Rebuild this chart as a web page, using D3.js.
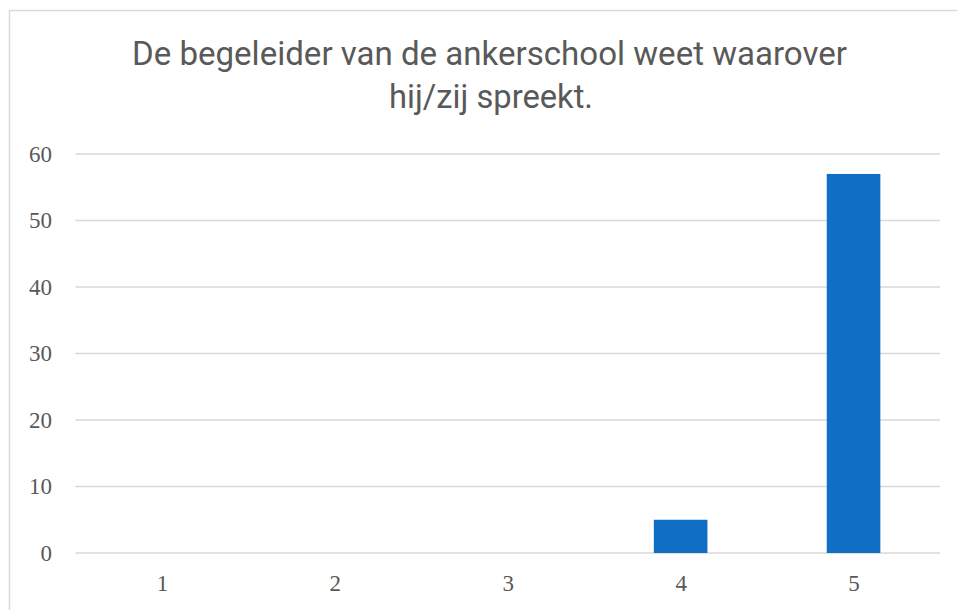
<!DOCTYPE html>
<html>
<head>
<meta charset="utf-8">
<script src="https://cdn.jsdelivr.net/npm/d3@7"></script>
<style>
  body { margin: 0; background: #fff; }
</style>
</head>
<body>
<div id="chart"></div>
<script>
// data
var categories = ["1", "2", "3", "4", "5"];
var counts = [0, 0, 0, 5, 57];
var yTicks = [0, 10, 20, 30, 40, 50, 60];
var titleLines = ["De begeleider van de ankerschool weet waarover", "hij/zij spreekt."];

var W = 957, H = 610;
var margin = {top: 154, right: 17, bottom: 57, left: 75.5},
    width = W - margin.left - margin.right,
    height = H - margin.top - margin.bottom;

var svg = d3.select("#chart")
  .append("svg")
    .attr("width", W)
    .attr("height", H);

// chart frame (right and bottom run off the page)
svg.append("rect")
  .attr("x", 9.5).attr("y", 10.5)
  .attr("width", W + 20).attr("height", H + 20)
  .attr("fill", "none")
  .attr("stroke", "#d9d9d9")
  .attr("stroke-width", 1.5);

// title, squeezed to the narrow face of the original
var titleWidths = [715, 204];
svg.append("text")
  .attr("text-anchor", "middle")
  .attr("font-family", "Roboto, sans-serif")
  .attr("font-size", 34)
  .attr("fill", "#595959")
  .selectAll("tspan")
  .data(titleLines)
  .enter()
  .append("tspan")
    .attr("x", (d, i) => i === 0 ? 489.5 : 491)
    .attr("y", (d, i) => 65 + i * 43)
    .attr("textLength", (d, i) => titleWidths[i])
    .attr("lengthAdjust", "spacingAndGlyphs")
    .text(d => d);

var g = svg.append("g")
  .attr("transform", "translate(" + margin.left + "," + margin.top + ")");

var x = d3.scaleBand()
  .domain(categories)
  .range([0, width])
  .paddingInner(0.69)
  .paddingOuter(0.345);

var y = d3.scaleLinear()
  .domain([0, 60])
  .range([height, 0]);

// gridlines
g.selectAll(".grid")
  .data(yTicks)
  .enter()
  .append("line")
    .attr("x1", 0).attr("x2", width)
    .attr("y1", d => y(d)).attr("y2", d => y(d))
    .attr("stroke", "#d9d9d9")
    .attr("stroke-width", 1.5);

// y axis labels
var yAxis = g.append("g")
  .call(d3.axisLeft(y).tickValues(yTicks).tickSize(0).tickPadding(23.5));
yAxis.select(".domain").remove();
yAxis.selectAll("text")
  .attr("font-family", "'Liberation Serif', serif")
  .attr("font-size", 23)
  .attr("fill", "#595959");

// bars
g.selectAll(".bar")
  .data(counts)
  .enter()
  .append("rect")
    .attr("x", (d, i) => x(categories[i]))
    .attr("width", x.bandwidth())
    .attr("y", d => y(d))
    .attr("height", d => height - y(d))
    .attr("fill", "#106ec5");

// x axis labels
var xAxis = g.append("g")
  .attr("transform", "translate(0," + height + ")")
  .call(d3.axisBottom(d3.scalePoint().domain(categories).range([x("1") + x.bandwidth() / 2, x("5") + x.bandwidth() / 2])).tickSize(0).tickPadding(21.5));
xAxis.select(".domain").remove();
xAxis.selectAll("text")
  .attr("font-family", "'Liberation Serif', serif")
  .attr("font-size", 23)
  .attr("fill", "#595959");
</script>
</body>
</html>
